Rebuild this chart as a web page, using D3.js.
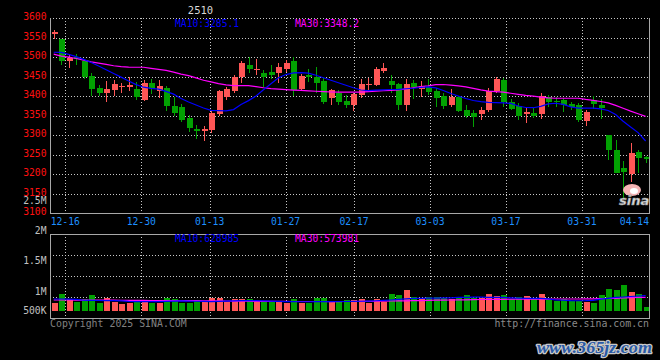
<!DOCTYPE html>
<html><head><meta charset="utf-8">
<script src="https://cdn.jsdelivr.net/npm/d3@7"></script>
<style>html,body{margin:0;padding:0;background:#000;}svg{display:block;}</style>
</head><body>
<svg id="c" width="660" height="360"></svg>
<script>
// ---------- DATA ----------
const dates = ["12-12","12-13","12-16","12-17","12-18","12-19","12-20","12-23","12-24","12-25","12-26","12-27","12-30","12-31",
"01-02","01-03","01-06","01-07","01-08","01-09","01-10","01-13","01-14","01-15","01-16","01-17","01-20","01-21","01-22","01-23","01-24","01-27",
"02-05","02-06","02-07","02-10","02-11","02-12","02-13","02-14","02-17","02-18","02-19","02-20","02-21","02-24","02-25","02-26","02-27","02-28",
"03-03","03-04","03-05","03-06","03-07","03-10","03-11","03-12","03-13","03-14","03-17","03-18","03-19","03-20","03-21","03-24","03-25","03-26","03-27","03-28","03-31",
"04-01","04-02","04-03","04-07","04-08","04-09","04-10","04-11","04-14"];
const opens  = [3562,3546,3491,3501,3490,3452,3420,3409,3415,3424,3423,3418,3389,3433,3412,3420,3375,3373,3345,3315,
3310,3313,3355,3397,3414,3448,3480,3467,3460,3462,3460,3469,3491,3418,3454,3448,3439,3395,3409,3388,
3377,3403,3428,3428,3465,3439,3431,3376,3434,3418,3424,3412,3400,3378,3397,3365,3358,3354,3365,3412,
3441,3386,3375,3354,3358,3354,3399,3388,3390,3380,3378,3337,3390,3378,3301,3262,3216,3200,3257,3243];
const highs  = [3569,3547,3505,3508,3496,3459,3429,3439,3441,3433,3450,3437,3441,3443,3441,3426,3399,3380,3352,3326,
3324,3362,3416,3424,3454,3491,3499,3495,3467,3480,3486,3493,3501,3457,3469,3474,3450,3418,3416,3403,
3408,3443,3446,3474,3484,3454,3434,3443,3441,3439,3443,3420,3407,3418,3401,3378,3365,3373,3420,3450,
3446,3392,3382,3373,3369,3408,3403,3399,3395,3384,3382,3365,3401,3392,3301,3288,3233,3280,3261,3246];
const lows   = [3546,3480,3471,3480,3443,3400,3401,3386,3400,3409,3414,3390,3388,3406,3395,3362,3350,3333,3307,3290,
3286,3305,3348,3390,3407,3433,3459,3454,3424,3443,3433,3462,3400,3414,3437,3409,3380,3376,3376,3369,
3363,3395,3416,3426,3459,3407,3365,3363,3392,3397,3403,3373,3367,3373,3360,3343,3320,3339,3360,3407,
3373,3365,3339,3331,3343,3341,3373,3373,3360,3365,3335,3324,3367,3341,3237,3203,3140,3181,3203,3229];
const closes = [3563,3491,3497,3496,3450,3418,3407,3418,3432,3426,3429,3397,3433,3418,3426,3375,3356,3339,3319,3313,
3316,3358,3412,3418,3450,3486,3469,3470,3450,3455,3474,3486,3416,3452,3448,3434,3386,3416,3386,3376,
3406,3431,3431,3469,3471,3428,3376,3431,3424,3426,3411,3396,3375,3397,3363,3348,3346,3365,3412,3444,
3386,3367,3348,3360,3350,3401,3386,3384,3378,3373,3339,3360,3380,3369,3261,3203,3207,3255,3241,3241];
const volumes = [503,1030,727,564,709,970,503,806,564,424, 503,564,667,503,503,806,727,503,503,667,
564,806,806,564,727,727,727,564,564,564, 564,503,727,503,503,806,806,564,564,667,
667,727,503,727,564,1030,970,1273,830,770, 830,830,770,727,867,970,770,770,1030,909,
970,727,867,927,770,1030,727,606,709,624, 624,564,503,970,1333,1273,1576,1170,1030,261].map(v => v * 1000);
const ma10 = [3512.3,3511.8,3506.9,3501.0,3494.1,3486.2,3477.2,3467.5,3458.1,3448.6,
3438.9,3429.4,3422.8,3420.0,3417.9,3412.0,3405.1,3393.9,3384.9,3377.3,
3369.6,3363.4,3362.7,3362.4,3365.5,3378.5,3388.5,3400.3,3416.1,3431.5,
3447.1,3455.2,3459.3,3459.9,3458.8,3453.5,3447.1,3440.7,3434.3,3427.9,
3421.5,3415.6,3414.3,3415.3,3416.1,3416.9,3417.4,3418.9,3420.2,3422.0,
3423.8,3421.0,3414.3,3406.7,3400.3,3393.9,3388.8,3385.7,3383.9,3383.4,
3382.9,3381.3,3374.7,3370.9,3370.3,3373.7,3380.1,3381.8,3379.0,3372.6,
3369.1,3369.1,3369.1,3367.3,3363.2,3352.7,3335.6,3321.0,3306.5,3285.1];
const ma30 = [3507.4,3502.6,3500.0,3496.4,3492.1,3487.7,3484.7,3481.1,3477.8,3475.5,
3474.4,3473.9,3473.9,3471.1,3468.5,3465.7,3461.6,3456.5,3452.4,3446.6,
3440.7,3436.6,3432.0,3428.7,3426.9,3426.9,3426.9,3424.3,3421.5,3419.2,
3417.7,3416.4,3415.4,3414.6,3413.6,3412.5,3411.5,3410.5,3410.0,3410.0,
3410.0,3410.0,3411.5,3412.8,3413.8,3414.6,3415.6,3418.4,3421.5,3424.6,
3426.1,3429.2,3429.7,3428.1,3426.1,3423.5,3419.7,3415.9,3412.8,3411.5,
3410.0,3407.4,3404.4,3401.8,3399.8,3397.5,3395.4,3394.6,3394.6,3394.6,
3394.6,3391.6,3389.3,3386.2,3382.6,3376.2,3369.1,3361.6,3355.0,3348.2];
const volMa10 = [727,727,720,700,650,640,636,630,624,610, 580,570,564,564,570,580,600,610,600,590,
580,570,580,600,615,624,624,624,615,600, 580,570,564,560,560,564,564,570,575,575,
580,590,600,620,640,667,700,740,770,770, 775,780,790,800,820,830,835,835,830,830,
820,800,780,770,770,760,740,680,650,624, 620,624,640,720,770,820,848,880,910,927].map(v => v * 1000);
const volMa30 = [667,667,667,665,662,660,660,658,655,650, 648,645,640,636,636,634,632,630,628,624,
620,615,610,605,600,596,592,588,585,582, 580,578,576,576,576,575,575,574,574,575,
576,580,585,590,598,606,612,618,624,630, 648,656,662,667,672,680,688,697,700,705,
710,715,715,718,720,722,725,727,727,727, 727,730,735,748,758,770,788,810,822,830].map(v => v * 1000);
const xTickLabels = ["12-16","12-30","01-13","01-27","02-17","03-03","03-17","03-31","04-14"];
const priceTicks = [3100,3150,3200,3250,3300,3350,3400,3450,3500,3550,3600];
const volTickLabels = [2500000,2000000,1500000,1000000,500000];
const volLegendMa10 = 628985;
const volLegendMa30 = 573981;
const titleText = "2510";

// ---------- LAYOUT ----------
const L = 50, R = 649, PT = 18, PB = 213.3, VT = 234, VB = 318;
const RED = "#ff5656", GREEN = "#02a102", GRID = "#c8c8c8", BORDER = "#a8a8a8";
const FONT = "'DejaVu Sans Mono', monospace";

const svg = d3.select("#c");
svg.append("rect").attr("width", 660).attr("height", 360).attr("fill", "#000");

const yP = d3.scaleLinear().domain([3100, 3600]).range([PB, PT]);
const xC = d3.scalePoint().domain(dates).range([53.7, 645.6]);
const xG = d3.scalePoint().domain(dates).range([50.1, 650.3]);
const yV = d3.scaleLinear().domain([0, 1e6]).range([311, 294.5]);
const yVL = d3.scaleLinear().domain([5e5, 2.5e6]).range([325, 203.5]);
const yPanel = d3.scaleLinear().domain([0, 4]).range([VB, VT]);

const px = v => Math.round(v) + 0.5;

// ---------- GRID ----------
const grid = svg.append("g").attr("stroke", GRID).attr("stroke-dasharray", "1,2").attr("stroke-width", 1);
priceTicks.filter(t => t > 3100).forEach(t => {
  grid.append("line").attr("x1", L).attr("x2", R).attr("y1", px(yP(t))).attr("y2", px(yP(t)));
});
[1, 2, 3].forEach(k => {
  grid.append("line").attr("x1", L).attr("x2", R).attr("y1", px(yPanel(k))).attr("y2", px(yPanel(k)));
});
xTickLabels.forEach(d => {
  const x = xG(d);
  if (x < R - 1) {
    grid.append("line").attr("x1", px(x)).attr("x2", px(x)).attr("y1", PT).attr("y2", PB);
    grid.append("line").attr("x1", px(x)).attr("x2", px(x)).attr("y1", VT).attr("y2", VB);
  }
});

// ---------- CANDLES ----------
const candles = svg.append("g").attr("shape-rendering", "crispEdges");
dates.forEach((d, i) => {
  const cx = Math.round(xC(d));
  const up = closes[i] >= opens[i];
  const col = up ? RED : GREEN;
  candles.append("line").attr("x1", cx + 0.5).attr("x2", cx + 0.5)
    .attr("y1", yP(highs[i])).attr("y2", yP(lows[i])).attr("stroke", col);
  const top = yP(Math.max(opens[i], closes[i]));
  const bot = yP(Math.min(opens[i], closes[i]));
  candles.append("rect").attr("x", cx - 2).attr("width", 6)
    .attr("y", top).attr("height", Math.max(1.2, bot - top)).attr("fill", col);
  // volume
  candles.append("rect").attr("x", cx - 2).attr("width", 6)
    .attr("y", yV(volumes[i])).attr("height", yV(0) - yV(volumes[i])).attr("fill", col);
});

// ---------- MA LINES ----------
const idx = d3.range(dates.length);
const lineP = arr => d3.line().x(i => xC(dates[i])).y(i => yP(arr[i]))(idx);
const lineV = arr => d3.line().x(i => xC(dates[i])).y(i => yV(arr[i]))(idx);
svg.append("path").attr("d", lineP(ma30)).attr("fill", "none").attr("stroke", "#ff00ff").attr("stroke-width", 1.2);
svg.append("path").attr("d", lineP(ma10)).attr("fill", "none").attr("stroke", "#0000ff").attr("stroke-width", 1.2);
svg.append("path").attr("d", lineV(volMa30)).attr("fill", "none").attr("stroke", "#ff00ff").attr("stroke-width", 1.2);
svg.append("path").attr("d", lineV(volMa10)).attr("fill", "none").attr("stroke", "#0000ff").attr("stroke-width", 1.2);

// ---------- BORDERS ----------
const b = svg.append("g").attr("stroke", BORDER).attr("shape-rendering", "crispEdges");
b.append("line").attr("x1", L + 0.5).attr("x2", L + 0.5).attr("y1", PT).attr("y2", PB + 0.5);
b.append("line").attr("x1", R + 0.5).attr("x2", R + 0.5).attr("y1", PT).attr("y2", PB + 0.5);
b.append("line").attr("x1", L).attr("x2", R + 1).attr("y1", px(PB)).attr("y2", px(PB));
b.append("line").attr("x1", L + 0.5).attr("x2", L + 0.5).attr("y1", VT).attr("y2", VB + 0.5);
b.append("line").attr("x1", R + 0.5).attr("x2", R + 0.5).attr("y1", VT).attr("y2", VB + 0.5);
b.append("line").attr("x1", L).attr("x2", R + 1).attr("y1", VT + 0.5).attr("y2", VT + 0.5);
b.append("line").attr("x1", L).attr("x2", R + 1).attr("y1", VB + 0.5).attr("y2", VB + 0.5);

// ---------- LABELS ----------
const txt = (x, y, s, fill, anchor, size) => svg.append("text").attr("x", x).attr("y", y)
  .attr("fill", fill).attr("text-anchor", anchor || "start")
  .attr("font-family", FONT).attr("font-size", size || 9.7).text(s);

priceTicks.forEach(t => txt(46.5, yP(t) + 2, String(t), "#ff1010", "end"));
const fmtV = v => v >= 1e6 ? (v / 1e6) + "M" : (v / 1e3) + "K";
volTickLabels.forEach(v => txt(46.5, Math.min(yVL(v), 313.5), fmtV(v), "#c0c0c0", "end"));

xTickLabels.forEach(d => {
  const t = txt(xG(d), 225, d, "#1e90ff", "middle");
  const w = t.node().getComputedTextLength();
  const cx = Math.min(xG(d), R - w / 2);
  t.attr("x", cx);
});

// title
txt(200.5, 14, titleText, "#d8d8d8", "middle", 10.5);
// legends
txt(175, 27, "MA10:" + ma10[ma10.length - 1].toFixed(1), "#0000ff", "start");
txt(295, 27, "MA30:" + ma30[ma30.length - 1].toFixed(1), "#ff00ff", "start");
txt(175, 242, "MA10:" + volLegendMa10, "#0000ff", "start");
txt(295, 242, "MA30:" + volLegendMa30, "#ff00ff", "start");

// footer
txt(50, 327, "Copyright 2025 SINA.COM", "#808080", "start", 9.9);
txt(649, 327, "http://finance.sina.com.cn", "#8a8a8a", "end", 9.9);

// sina logo
svg.append("ellipse").attr("cx", 632).attr("cy", 190).attr("rx", 9).attr("ry", 6)
  .attr("fill", "#f6b4b4");
svg.append("ellipse").attr("cx", 634).attr("cy", 191).attr("rx", 4).attr("ry", 3)
  .attr("fill", "#ffffff");
svg.append("text").attr("x", 619).attr("y", 205).attr("font-family", "'DejaVu Sans', sans-serif")
  .attr("font-size", 13).attr("font-weight", "bold").attr("font-style", "italic")
  .attr("fill", "#dcdcdc").attr("stroke", "#909090").attr("stroke-width", 0.6).text("sina");

// watermark
svg.append("text").attr("x", 537).attr("y", 353)
  .attr("font-family", "'Liberation Serif', serif").attr("font-size", 17)
  .attr("font-weight", "bold").attr("font-style", "italic")
  .attr("textLength", 115).attr("lengthAdjust", "spacingAndGlyphs")
  .attr("fill", "#2a5aa6").attr("stroke", "#c8c8c8").attr("stroke-width", 2.5)
  .attr("paint-order", "stroke").attr("stroke-linejoin", "round").text("www.365jz.com");
</script>
</body></html>
